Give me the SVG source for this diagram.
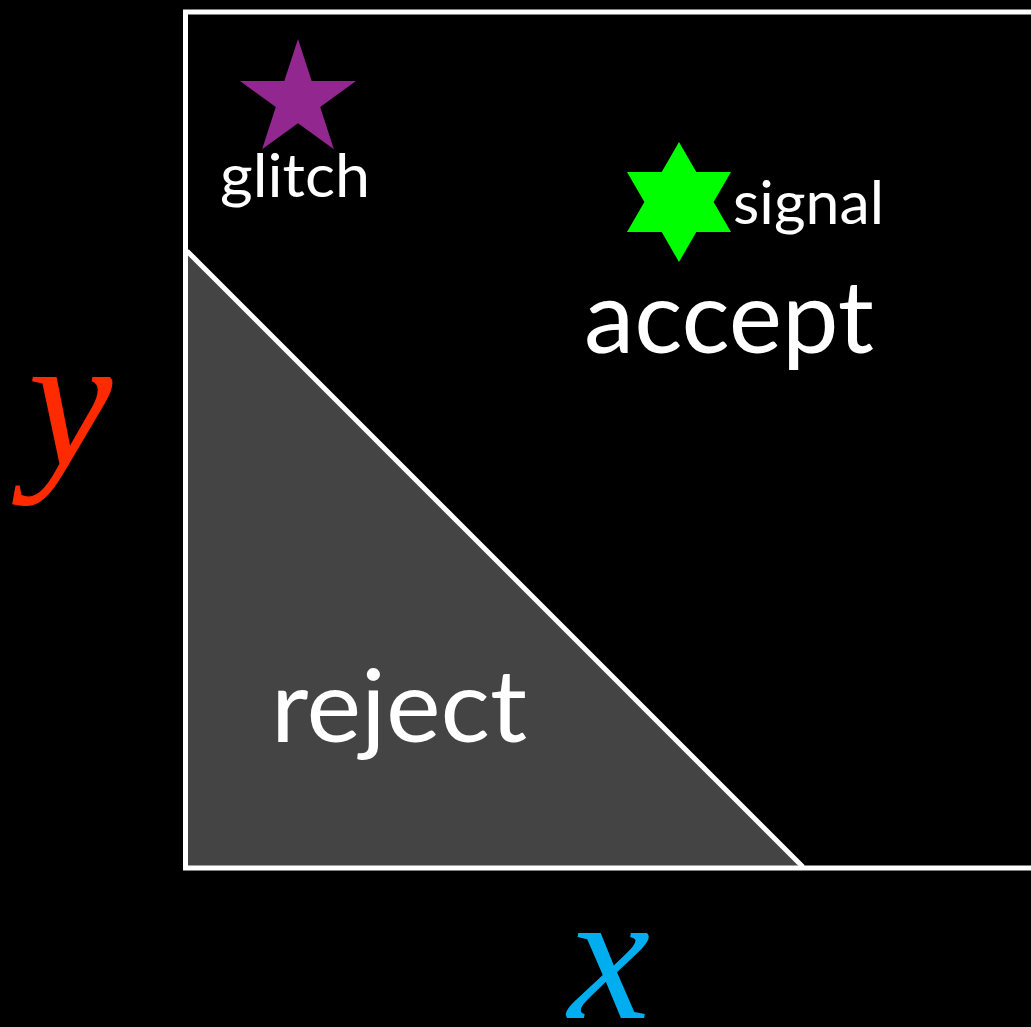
<svg xmlns="http://www.w3.org/2000/svg" width="1031" height="1027" viewBox="0 0 1031 1027">
<style>
.lbl{font-family:"Lato","Open Sans",sans-serif;fill:#ffffff}
.math{font-family:"Liberation Serif","DejaVu Serif",serif;font-style:italic}
</style>
<rect x="0" y="0" width="1031" height="1027" fill="#000"/>
<g id="region-reject">
<polygon points="187,251 187,866 803,866" fill="#444444"/>
</g>
<g id="frame">
<rect x="185.5" y="12" width="900" height="856" fill="none" stroke="#fff" stroke-width="5"/>
<line x1="187" y1="251" x2="803" y2="867" stroke="#fff" stroke-width="5"/>
</g>
<g id="glitch">
<polygon points="298,39 311.7,81.1 356,81.1 320.2,107.1 333.9,149.3 298,123.3 262.1,149.3 275.8,107.1 240,81.1 284.3,81.1" fill="#92278f"/>
<text class="lbl" x="220" y="197" font-size="60" textLength="150" lengthAdjust="spacingAndGlyphs">glitch</text>
</g>
<g id="signal">
<polygon points="679,142 696.3,172 731,172 713.6,202 731,232 696.3,232 679,262 661.7,232 627,232 644.4,202 627,172 661.7,172" fill="#00ff00"/>
<text class="lbl" x="733" y="224" font-size="60" textLength="151" lengthAdjust="spacingAndGlyphs">signal</text>
</g>
<g id="accept">
<text class="lbl" x="584" y="353" font-size="100" textLength="290" lengthAdjust="spacingAndGlyphs">accept</text>
</g>
<g id="reject">
<text class="lbl" x="271" y="742" font-size="100" textLength="256" lengthAdjust="spacingAndGlyphs">reject</text>
</g>
<g id="axis-y">
<text class="math" x="28" y="465" font-size="190" fill="#ff2a00">y</text>
</g>
<g id="axis-x">
<text class="math" x="568" y="1018" font-size="185" fill="#00aeef">x</text>
</g>
<g id="connectors"></g>
</svg>
